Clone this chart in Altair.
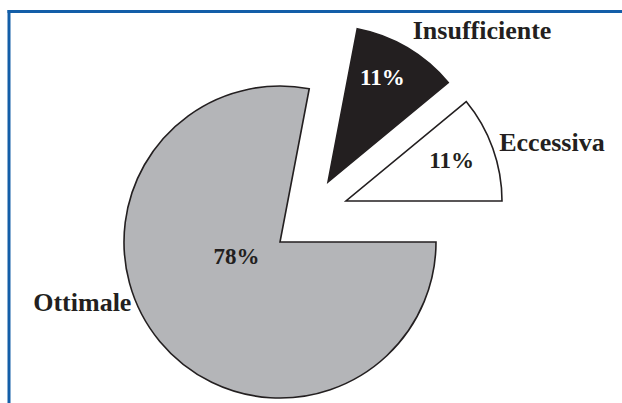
import altair as alt
import pandas as pd
import math

categories = ["Ottimale", "Insufficiente", "Eccessiva"]
values = [78, 11, 11]
pct_labels = ["78%", "11%", "11%"]
fills = ["#b4b5b8", "#231f20", "#ffffff"]
pct_colors = ["#231f20", "#ffffff", "#231f20"]

# layout (slice centres after "explosion"), in pixels
centers = {"Ottimale": (280, 242), "Insufficiente": (328, 182), "Eccessiva": (346, 201)}
R = 156
pct_radius = {"Ottimale": 46, "Insufficiente": 117, "Eccessiva": 113}
pct_toff = {"Ottimale": 0.36, "Insufficiente": -0.05, "Eccessiva": -0.02}
lab_radius = {"Ottimale": 207, "Insufficiente": 216, "Eccessiva": 214}
lab_toff = {"Ottimale": 0.39, "Insufficiente": 0.26, "Eccessiva": 0.07}

df = pd.DataFrame({"cat": categories, "value": values, "pct": pct_labels,
                   "fill": fills, "tcol": pct_colors})

start = math.pi / 2
theta_scale = alt.Scale(domain=[0, 100], range=[start, start + 2 * math.pi])

base = alt.Chart(df).transform_window(
    v1="sum(value)", frame=[None, 0]
).transform_calculate(
    v0="datum.v1 - datum.value", mid="datum.v1 - datum.value / 2"
)

layers = []
for i, c in enumerate(categories):
    cx, cy = centers[c]
    sub = base.transform_filter(alt.datum.cat == c)
    arc = sub.mark_arc(
        outerRadius=R,
        stroke="#231f20" if c != "Insufficiente" else fills[i],
        strokeWidth=1.6,
        strokeJoin="miter",
        fill=fills[i],
    ).encode(
        theta=alt.Theta("v0:Q", scale=theta_scale, stack=None),
        theta2="v1:Q",
        x=alt.value(cx),
        y=alt.value(cy),
    )
    pct = sub.mark_text(
        font="Liberation Serif", fontWeight="bold", fontSize=23,
        color=pct_colors[i], align="center", baseline="middle",
        radius=pct_radius[c], thetaOffset=pct_toff[c],
    ).encode(
        theta=alt.Theta("mid:Q", scale=theta_scale, stack=None),
        text="pct:N",
        x=alt.value(cx),
        y=alt.value(cy),
    )
    lab = sub.mark_text(
        font="Liberation Serif", fontWeight="bold", fontSize=26,
        color="#231f20", align="center", baseline="middle",
        radius=lab_radius[c], thetaOffset=lab_toff[c],
    ).encode(
        theta=alt.Theta("mid:Q", scale=theta_scale, stack=None),
        text="cat:N",
        x=alt.value(cx),
        y=alt.value(cy),
    )
    layers += [arc, pct, lab]

frame_top = alt.Chart(df.head(1)).mark_rule(color="#135ea8", strokeWidth=3).encode(
    x=alt.value(7.5), x2=alt.value(622), y=alt.value(11.5)
)
frame_left = alt.Chart(df.head(1)).mark_rule(color="#135ea8", strokeWidth=3).encode(
    x=alt.value(9), y=alt.value(10), y2=alt.value(403)
)

chart = alt.layer(frame_top, frame_left, *layers).properties(
    width=622, height=403, padding=0, autosize="none", background="white"
).configure_view(stroke=None)

chart.save("out.html", embed_options={"renderer": "svg", "actions": False})
